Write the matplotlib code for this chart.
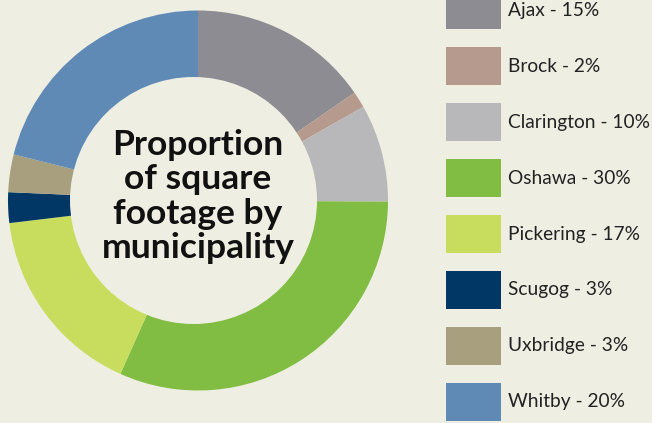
import matplotlib
matplotlib.use("Agg")
import matplotlib.pyplot as plt
from matplotlib.patches import Rectangle, Circle

municipalities = ["Ajax", "Brock", "Clarington", "Oshawa", "Pickering", "Scugog", "Uxbridge", "Whitby"]
label_pcts = [15, 2, 10, 30, 17, 3, 3, 20]
# slice sizes as drawn in the picture (%)
shares = [15.4, 1.4, 8.3, 31.6, 16.4, 2.6, 3.2, 21.1]
colors = ["#8c8c92", "#b59a8d", "#b8b8ba", "#82bd43", "#c8dc5e", "#003764", "#a89f7e", "#5f8ab5"]
title = "Proportion\nof square\nfootage by\nmunicipality"

BG = "#eeefe2"
W, H = 652, 423
fig = plt.figure(figsize=(W / 100, H / 100), dpi=100, facecolor=BG)
ax = fig.add_axes([0, 0, 1, 1])
ax.set_facecolor(BG)

cx, cy = 198, H - 200.5
R = 190
ax.pie(shares, colors=colors, startangle=90, counterclock=False,
       center=(cx, cy), radius=R,
       wedgeprops=dict(linewidth=0, antialiased=True))
# hole of the donut (slightly off-centre, as in the original)
ax.add_patch(Circle((cx - 4.5, cy), 123.5, facecolor=BG, edgecolor="none", zorder=3))
ax.set_xlim(0, W)
ax.set_ylim(0, H)
ax.set_aspect("equal")
ax.axis("off")

ax.text(cx, cy + 4, title, ha="center", va="center", fontsize=25.5,
        fontweight="bold", family="Lato", color="#111111", linespacing=1.08,
        zorder=4)

for i, (name, pct, col) in enumerate(zip(municipalities, label_pcts, colors)):
    yc = H - (10 + 56 * i)
    ax.add_patch(Rectangle((446, yc - 19), 55, 38, facecolor=col, edgecolor="none"))
    ax.text(508, yc, f"{name} - {pct}%", ha="left", va="center", fontsize=13.8,
            family="Lato", color="#222222")

fig.savefig("out.png", dpi=100, facecolor=BG)
